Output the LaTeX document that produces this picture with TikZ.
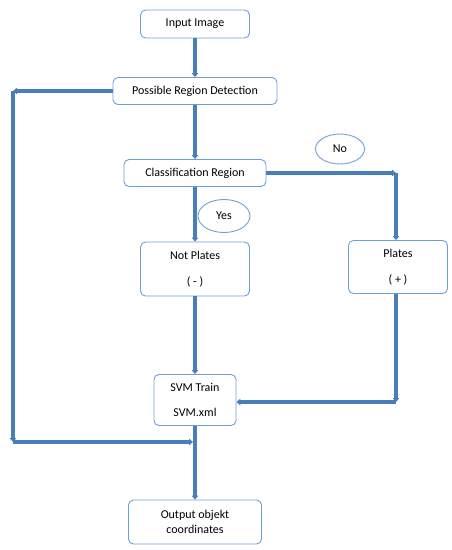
\documentclass[tikz,border=0pt]{standalone}
\usepackage{fontspec}
\setmainfont{Carlito}
\usetikzlibrary{arrows.meta,shapes.geometric}

\definecolor{lineblue}{HTML}{4A7EBB}
\definecolor{boxblue}{HTML}{6E9FD6}

\tikzset{
  flowbox/.style={draw=boxblue, line width=0.9pt, rounded corners=5pt,
    align=center, inner sep=0pt, font=\fontsize{12}{15}\selectfont},
  answer/.style={ellipse, draw=boxblue, line width=0.9pt, inner sep=0pt,
    font=\fontsize{12}{15}\selectfont},
  flowline/.style={draw=lineblue, line width=3.1pt,
    -{Triangle[length=4pt,width=6.5pt]}},
}

\begin{document}
\begin{tikzpicture}[x=1pt, y=-1pt]
  \useasboundingbox (0,0) rectangle (452,550);
  % boxes
  \node[flowbox, minimum width=109pt, minimum height=28pt] (InputImage) at (195,24) {Input Image};
  \node[flowbox, minimum width=164pt, minimum height=27pt] (RegionDetection) at (195,91) {Possible Region Detection};
  \node[flowbox, minimum width=142pt, minimum height=27pt] (ClassRegion) at (195,173) {Classification Region};
  \node[flowbox, minimum width=109pt, minimum height=54pt] (NotPlates) at (195,269) {Not Plates\\[11pt]( - )};
  \node[flowbox, minimum width=99pt, minimum height=53pt] (Plates) at (398,267) {Plates\\[11pt]( + )};
  \node[flowbox, minimum width=82pt, minimum height=51pt] (SVMTrain) at (195,400) {SVM Train\\[10pt]SVM.xml};
  \node[flowbox, minimum width=133pt, minimum height=44pt] (Output) at (195,522) {Output objekt\\coordinates};
  % answers
  \node[answer, minimum width=49pt, minimum height=30pt] (No) at (340,149) {No};
  \node[answer, minimum width=52pt, minimum height=33pt] (Yes) at (224,216) {Yes};
  % corners
  \coordinate (LoopTop) at (13,91);
  \coordinate (LoopBottom) at (13,442);
  \coordinate (LoopJoin) at (193,442);
  \coordinate (PlatesTop) at (396,173);
  \coordinate (PlatesBottom) at (396,402);
  % Relations
  \draw[flowline] (InputImage.south) -- (RegionDetection.north);
  \draw[flowline] (RegionDetection.south) -- (ClassRegion.north);
  \draw[flowline] (RegionDetection.west) -- (LoopTop);
  \draw[flowline] (LoopTop) -- (LoopBottom);
  \draw[flowline] (LoopBottom) -- (LoopJoin);
  \draw[flowline] (ClassRegion.south -| NotPlates.north) -- (NotPlates.north);
  \draw[flowline] (ClassRegion.east) -- (PlatesTop);
  \draw[flowline] (PlatesTop) -- (PlatesTop |- Plates.north);
  \draw[flowline] (NotPlates.south) -- (SVMTrain.north);
  \draw[flowline] (PlatesTop |- Plates.south) -- (PlatesBottom);
  \draw[flowline] (PlatesBottom) -- (PlatesBottom -| SVMTrain.east);
  \draw[flowline] (SVMTrain.south) -- (Output.north);
\end{tikzpicture}
\end{document}
